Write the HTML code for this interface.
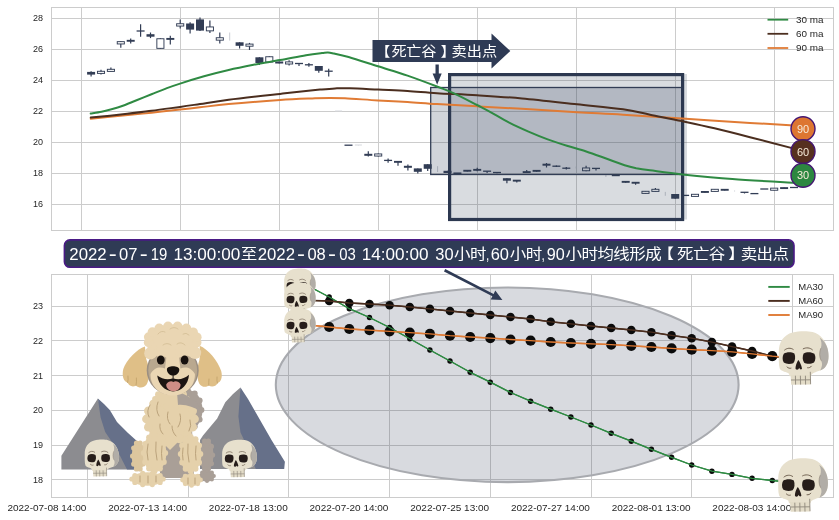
<!DOCTYPE html>
<html lang="zh">
<head>
<meta charset="utf-8">
<title>死亡谷 卖出点</title>
<style>
html,body{margin:0;padding:0;background:#fff;}
body{width:839px;height:520px;overflow:hidden;}
svg{display:block;}
text{font-family:"Liberation Sans", "Noto Sans CJK SC", sans-serif;}
.tick{font-size:10px;fill:#262626;}
.leg{font-size:9.9px;fill:#262626;}
.ytick{font-size:9.7px;fill:#262626;}
.leg2{font-size:9.5px;fill:#262626;}
</style>
</head>
<body>
<svg width="839" height="520" viewBox="0 0 839 520">
<rect x="0" y="0" width="839" height="520" fill="#ffffff"/>

<g id="ax1">
<g stroke="#cccccc" stroke-width="1" fill="none" shape-rendering="crispEdges">
<line x1="81.5" y1="7.5" x2="81.5" y2="230.5"/>
<line x1="180.5" y1="7.5" x2="180.5" y2="230.5"/>
<line x1="279.5" y1="7.5" x2="279.5" y2="230.5"/>
<line x1="378.5" y1="7.5" x2="378.5" y2="230.5"/>
<line x1="477.5" y1="7.5" x2="477.5" y2="230.5"/>
<line x1="576.5" y1="7.5" x2="576.5" y2="230.5"/>
<line x1="675.5" y1="7.5" x2="675.5" y2="230.5"/>
<line x1="774.5" y1="7.5" x2="774.5" y2="230.5"/>
<line x1="51.5" y1="18.5" x2="833.5" y2="18.5"/>
<line x1="51.5" y1="49.5" x2="833.5" y2="49.5"/>
<line x1="51.5" y1="80.5" x2="833.5" y2="80.5"/>
<line x1="51.5" y1="111.5" x2="833.5" y2="111.5"/>
<line x1="51.5" y1="142.5" x2="833.5" y2="142.5"/>
<line x1="51.5" y1="173.5" x2="833.5" y2="173.5"/>
<line x1="51.5" y1="204.5" x2="833.5" y2="204.5"/>
<rect x="51.5" y="7.5" width="782.0" height="223.0"/>
</g>
<text class="ytick" transform="translate(43.0,21.4) scale(0.93,1)" text-anchor="end">28</text>
<text class="ytick" transform="translate(43.0,52.3) scale(0.93,1)" text-anchor="end">26</text>
<text class="ytick" transform="translate(43.0,83.3) scale(0.93,1)" text-anchor="end">24</text>
<text class="ytick" transform="translate(43.0,114.2) scale(0.93,1)" text-anchor="end">22</text>
<text class="ytick" transform="translate(43.0,145.1) scale(0.93,1)" text-anchor="end">20</text>
<text class="ytick" transform="translate(43.0,176.1) scale(0.93,1)" text-anchor="end">18</text>
<text class="ytick" transform="translate(43.0,207.0) scale(0.93,1)" text-anchor="end">16</text>
<g id="candles">
<line x1="229.7" y1="32.5" x2="229.7" y2="40.6" stroke="#c9ccd3" stroke-width="1"/>
<line x1="338.6" y1="111" x2="338.6" y2="111.3" stroke="#c9ccd3" stroke-width="1"/>
<line x1="335.1" y1="111" x2="342.1" y2="111" stroke="#d5d7dc" stroke-width="1"/>
<line x1="358.4" y1="145.0" x2="358.4" y2="145.4" stroke="#c9ccd3" stroke-width="1"/>
<line x1="354.9" y1="145.0" x2="361.9" y2="145.0" stroke="#d5d7dc" stroke-width="1"/>
<line x1="437.6" y1="166.2" x2="437.6" y2="172.0" stroke="#c9ccd3" stroke-width="1"/>
<line x1="576.2" y1="166.5" x2="576.2" y2="168.5" stroke="#c9ccd3" stroke-width="1"/>
<line x1="605.9" y1="174.0" x2="605.9" y2="177.0" stroke="#c9ccd3" stroke-width="1"/>
<line x1="665.3" y1="191.9" x2="665.3" y2="195.8" stroke="#c9ccd3" stroke-width="1"/>
<line x1="734.6" y1="190.5" x2="734.6" y2="191.5" stroke="#c9ccd3" stroke-width="1"/>
<line x1="91.1" y1="71.3" x2="91.1" y2="76.5" stroke="#323d55" stroke-width="1.2"/>
<rect x="87.1" y="71.90" width="8.0" height="2.7" fill="#323d55"/>
<line x1="101.0" y1="69.8" x2="101.0" y2="74.6" stroke="#323d55" stroke-width="1.2"/>
<rect x="97.45" y="71.30" width="7.10" height="2.10" fill="#ffffff" stroke="#323d55" stroke-width="0.95"/>
<line x1="110.9" y1="67.5" x2="110.9" y2="71.5" stroke="#323d55" stroke-width="1.2"/>
<rect x="107.35" y="69.30" width="7.10" height="2.10" fill="#ffffff" stroke="#323d55" stroke-width="0.95"/>
<line x1="120.8" y1="41.2" x2="120.8" y2="47.7" stroke="#323d55" stroke-width="1.2"/>
<rect x="117.25" y="41.65" width="7.10" height="2.30" fill="#ffffff" stroke="#323d55" stroke-width="0.95"/>
<line x1="130.7" y1="38.5" x2="130.7" y2="43.5" stroke="#323d55" stroke-width="1.2"/>
<rect x="126.7" y="39.85" width="8.0" height="1.9" fill="#323d55"/>
<line x1="140.6" y1="24.2" x2="140.6" y2="36.7" stroke="#323d55" stroke-width="1.2"/>
<line x1="136.6" y1="31.0" x2="144.6" y2="31.0" stroke="#323d55" stroke-width="1.3"/>
<line x1="150.5" y1="32.5" x2="150.5" y2="38.1" stroke="#323d55" stroke-width="1.2"/>
<rect x="146.5" y="34.20" width="8.0" height="2.5" fill="#323d55"/>
<line x1="160.4" y1="38.3" x2="160.4" y2="48.8" stroke="#323d55" stroke-width="1.2"/>
<rect x="156.85" y="38.75" width="7.10" height="9.60" fill="#ffffff" stroke="#323d55" stroke-width="0.95"/>
<line x1="170.3" y1="35.8" x2="170.3" y2="44.4" stroke="#323d55" stroke-width="1.2"/>
<rect x="166.3" y="37.95" width="8.0" height="1.9" fill="#323d55"/>
<line x1="180.2" y1="19.4" x2="180.2" y2="28.5" stroke="#323d55" stroke-width="1.2"/>
<rect x="176.65" y="23.75" width="7.10" height="2.30" fill="#ffffff" stroke="#323d55" stroke-width="0.95"/>
<line x1="190.1" y1="22.3" x2="190.1" y2="33.5" stroke="#323d55" stroke-width="1.2"/>
<rect x="186.1" y="23.50" width="8.0" height="6.1" fill="#323d55"/>
<line x1="200.0" y1="17.5" x2="200.0" y2="31.0" stroke="#323d55" stroke-width="1.2"/>
<rect x="196.0" y="19.40" width="8.0" height="11.2" fill="#323d55"/>
<line x1="209.9" y1="20.4" x2="209.9" y2="32.9" stroke="#323d55" stroke-width="1.2"/>
<rect x="206.35" y="26.95" width="7.10" height="3.90" fill="#ffffff" stroke="#323d55" stroke-width="0.95"/>
<line x1="219.8" y1="32.5" x2="219.8" y2="43.5" stroke="#323d55" stroke-width="1.2"/>
<rect x="216.25" y="37.75" width="7.10" height="2.40" fill="#ffffff" stroke="#323d55" stroke-width="0.95"/>
<line x1="239.6" y1="42.3" x2="239.6" y2="48.5" stroke="#323d55" stroke-width="1.2"/>
<rect x="235.6" y="42.30" width="8.0" height="3.5" fill="#323d55"/>
<line x1="249.5" y1="42.9" x2="249.5" y2="50.0" stroke="#323d55" stroke-width="1.2"/>
<rect x="245.95" y="44.10" width="7.10" height="2.10" fill="#ffffff" stroke="#323d55" stroke-width="0.95"/>
<line x1="259.4" y1="57.3" x2="259.4" y2="65.0" stroke="#323d55" stroke-width="1.2"/>
<rect x="255.4" y="57.30" width="8.0" height="5.7" fill="#323d55"/>
<line x1="269.3" y1="56.3" x2="269.3" y2="62.5" stroke="#323d55" stroke-width="1.2"/>
<rect x="265.75" y="56.75" width="7.10" height="5.30" fill="#ffffff" stroke="#323d55" stroke-width="0.95"/>
<line x1="279.2" y1="61.5" x2="279.2" y2="63.5" stroke="#323d55" stroke-width="1.2"/>
<rect x="275.2" y="61.50" width="8.0" height="2.0" fill="#323d55"/>
<line x1="289.1" y1="60.2" x2="289.1" y2="65.4" stroke="#323d55" stroke-width="1.2"/>
<rect x="285.55" y="61.90" width="7.10" height="2.10" fill="#ffffff" stroke="#323d55" stroke-width="0.95"/>
<line x1="299.0" y1="63.5" x2="299.0" y2="66.0" stroke="#323d55" stroke-width="1.2"/>
<line x1="295.0" y1="63.5" x2="303.0" y2="63.5" stroke="#323d55" stroke-width="1.3"/>
<line x1="308.9" y1="63.1" x2="308.9" y2="66.7" stroke="#323d55" stroke-width="1.2"/>
<line x1="304.9" y1="64.8" x2="312.9" y2="64.8" stroke="#323d55" stroke-width="1.3"/>
<line x1="318.8" y1="66.0" x2="318.8" y2="72.7" stroke="#323d55" stroke-width="1.2"/>
<rect x="314.8" y="66.00" width="8.0" height="4.8" fill="#323d55"/>
<line x1="328.7" y1="68.8" x2="328.7" y2="76.5" stroke="#323d55" stroke-width="1.2"/>
<line x1="324.7" y1="71.2" x2="332.7" y2="71.2" stroke="#323d55" stroke-width="1.3"/>
<line x1="344.5" y1="145.2" x2="352.5" y2="145.2" stroke="#323d55" stroke-width="1.3"/>
<line x1="368.3" y1="151.2" x2="368.3" y2="156.5" stroke="#323d55" stroke-width="1.2"/>
<rect x="364.3" y="153.80" width="8.0" height="2.0" fill="#323d55"/>
<line x1="378.2" y1="153.5" x2="378.2" y2="156.5" stroke="#323d55" stroke-width="1.2"/>
<rect x="374.65" y="153.95" width="7.10" height="2.10" fill="#ffffff" stroke="#323d55" stroke-width="0.95"/>
<line x1="388.1" y1="158.5" x2="388.1" y2="162.7" stroke="#323d55" stroke-width="1.2"/>
<line x1="384.1" y1="160.4" x2="392.1" y2="160.4" stroke="#323d55" stroke-width="1.3"/>
<line x1="398.0" y1="161.0" x2="398.0" y2="165.8" stroke="#323d55" stroke-width="1.2"/>
<rect x="394.0" y="160.90" width="8.0" height="1.9" fill="#323d55"/>
<line x1="407.9" y1="164.6" x2="407.9" y2="170.4" stroke="#323d55" stroke-width="1.2"/>
<rect x="403.9" y="165.80" width="8.0" height="2.0" fill="#323d55"/>
<line x1="417.8" y1="168.4" x2="417.8" y2="173.5" stroke="#323d55" stroke-width="1.2"/>
<rect x="413.8" y="168.40" width="8.0" height="3.4" fill="#323d55"/>
<line x1="427.7" y1="164.2" x2="427.7" y2="171.0" stroke="#323d55" stroke-width="1.2"/>
<rect x="423.7" y="164.20" width="8.0" height="4.6" fill="#323d55"/>
<line x1="447.5" y1="170.8" x2="447.5" y2="173.0" stroke="#323d55" stroke-width="1.2"/>
<rect x="443.5" y="170.80" width="8.0" height="2.2" fill="#323d55"/>
<line x1="457.4" y1="173.0" x2="457.4" y2="173.8" stroke="#323d55" stroke-width="1.2"/>
<rect x="453.4" y="172.45" width="8.0" height="1.9" fill="#323d55"/>
<line x1="467.3" y1="170.0" x2="467.3" y2="171.5" stroke="#323d55" stroke-width="1.2"/>
<rect x="463.3" y="169.80" width="8.0" height="1.9" fill="#323d55"/>
<line x1="477.2" y1="167.7" x2="477.2" y2="171.3" stroke="#323d55" stroke-width="1.2"/>
<rect x="473.2" y="168.90" width="8.0" height="1.9" fill="#323d55"/>
<line x1="487.1" y1="171.2" x2="487.1" y2="173.0" stroke="#323d55" stroke-width="1.2"/>
<line x1="483.1" y1="171.2" x2="491.1" y2="171.2" stroke="#323d55" stroke-width="1.3"/>
<line x1="497.0" y1="172.5" x2="497.0" y2="173.2" stroke="#323d55" stroke-width="1.2"/>
<line x1="493.0" y1="172.5" x2="501.0" y2="172.5" stroke="#323d55" stroke-width="1.3"/>
<line x1="506.9" y1="178.2" x2="506.9" y2="183.2" stroke="#323d55" stroke-width="1.2"/>
<rect x="502.9" y="178.20" width="8.0" height="2.5" fill="#323d55"/>
<line x1="516.8" y1="180.0" x2="516.8" y2="182.5" stroke="#323d55" stroke-width="1.2"/>
<rect x="512.8" y="179.70" width="8.0" height="1.9" fill="#323d55"/>
<line x1="526.7" y1="170.0" x2="526.7" y2="173.0" stroke="#323d55" stroke-width="1.2"/>
<rect x="522.7" y="171.15" width="8.0" height="1.9" fill="#323d55"/>
<line x1="536.6" y1="170.0" x2="536.6" y2="171.7" stroke="#323d55" stroke-width="1.2"/>
<rect x="532.6" y="169.90" width="8.0" height="1.9" fill="#323d55"/>
<line x1="546.5" y1="163.0" x2="546.5" y2="167.5" stroke="#323d55" stroke-width="1.2"/>
<rect x="542.5" y="163.70" width="8.0" height="2.0" fill="#323d55"/>
<line x1="556.4" y1="165.5" x2="556.4" y2="167.0" stroke="#323d55" stroke-width="1.2"/>
<line x1="552.4" y1="166.2" x2="560.4" y2="166.2" stroke="#323d55" stroke-width="1.3"/>
<line x1="566.3" y1="167.0" x2="566.3" y2="169.5" stroke="#323d55" stroke-width="1.2"/>
<line x1="562.3" y1="168.2" x2="570.3" y2="168.2" stroke="#323d55" stroke-width="1.3"/>
<line x1="586.1" y1="165.8" x2="586.1" y2="171.2" stroke="#323d55" stroke-width="1.2"/>
<rect x="582.55" y="167.95" width="7.10" height="2.80" fill="#ffffff" stroke="#323d55" stroke-width="0.95"/>
<line x1="596.0" y1="168.4" x2="596.0" y2="170.6" stroke="#323d55" stroke-width="1.2"/>
<line x1="592.0" y1="168.4" x2="600.0" y2="168.4" stroke="#323d55" stroke-width="1.3"/>
<line x1="615.8" y1="174.6" x2="615.8" y2="175.9" stroke="#323d55" stroke-width="1.2"/>
<rect x="611.8" y="174.30" width="8.0" height="1.9" fill="#323d55"/>
<line x1="625.7" y1="181.0" x2="625.7" y2="182.7" stroke="#323d55" stroke-width="1.2"/>
<rect x="621.7" y="180.90" width="8.0" height="1.9" fill="#323d55"/>
<line x1="635.6" y1="182.0" x2="635.6" y2="184.8" stroke="#323d55" stroke-width="1.2"/>
<rect x="631.6" y="181.80" width="8.0" height="1.9" fill="#323d55"/>
<line x1="645.5" y1="191.2" x2="645.5" y2="193.5" stroke="#323d55" stroke-width="1.2"/>
<rect x="641.95" y="191.30" width="7.10" height="2.10" fill="#ffffff" stroke="#323d55" stroke-width="0.95"/>
<line x1="655.4" y1="188.0" x2="655.4" y2="191.5" stroke="#323d55" stroke-width="1.2"/>
<rect x="651.85" y="189.30" width="7.10" height="2.10" fill="#ffffff" stroke="#323d55" stroke-width="0.95"/>
<line x1="675.2" y1="194.0" x2="675.2" y2="198.7" stroke="#323d55" stroke-width="1.2"/>
<rect x="671.2" y="194.00" width="8.0" height="4.7" fill="#323d55"/>
<line x1="681.1" y1="195.4" x2="689.1" y2="195.4" stroke="#323d55" stroke-width="1.3"/>
<line x1="695.0" y1="194.2" x2="695.0" y2="196.5" stroke="#323d55" stroke-width="1.2"/>
<rect x="691.45" y="194.30" width="7.10" height="2.10" fill="#ffffff" stroke="#323d55" stroke-width="0.95"/>
<line x1="704.9" y1="191.2" x2="704.9" y2="192.7" stroke="#323d55" stroke-width="1.2"/>
<rect x="700.9" y="191.00" width="8.0" height="1.9" fill="#323d55"/>
<line x1="714.8" y1="189.2" x2="714.8" y2="191.5" stroke="#323d55" stroke-width="1.2"/>
<rect x="711.25" y="189.30" width="7.10" height="2.10" fill="#ffffff" stroke="#323d55" stroke-width="0.95"/>
<line x1="724.7" y1="189.0" x2="724.7" y2="190.6" stroke="#323d55" stroke-width="1.2"/>
<rect x="720.7" y="188.85" width="8.0" height="1.9" fill="#323d55"/>
<line x1="744.5" y1="192.3" x2="744.5" y2="193.5" stroke="#323d55" stroke-width="1.2"/>
<line x1="740.5" y1="192.3" x2="748.5" y2="192.3" stroke="#323d55" stroke-width="1.3"/>
<line x1="750.4" y1="193.6" x2="758.4" y2="193.6" stroke="#323d55" stroke-width="1.3"/>
<line x1="760.3" y1="189.0" x2="768.3" y2="189.0" stroke="#323d55" stroke-width="1.3"/>
<line x1="774.2" y1="188.0" x2="774.2" y2="190.4" stroke="#323d55" stroke-width="1.2"/>
<rect x="770.65" y="188.15" width="7.10" height="2.10" fill="#ffffff" stroke="#323d55" stroke-width="0.95"/>
<line x1="784.1" y1="187.5" x2="784.1" y2="188.7" stroke="#323d55" stroke-width="1.2"/>
<rect x="780.1" y="187.15" width="8.0" height="1.9" fill="#323d55"/>
<line x1="790.0" y1="187.5" x2="798.0" y2="187.5" stroke="#323d55" stroke-width="1.3"/>
</g>
<g id="boxes">
<rect x="449" y="74" width="238" height="145.5" fill="#2f3b55" fill-opacity="0.18"/>
<rect x="430.7" y="87.5" width="251.8" height="87.0" fill="#2f3b55" fill-opacity="0.22" stroke="#323d55" stroke-width="1.3"/>
<rect x="449.6" y="74.6" width="233" height="144.9" fill="none" stroke="#2c3850" stroke-width="3.2" stroke-linejoin="miter"/>
</g>
<g id="ma" fill="none" stroke-linecap="round" stroke-linejoin="round">
<path d="M90.7,118.7 C96.1,118.2 112.8,116.6 122.9,115.6 C133.0,114.6 142.0,113.7 151.5,112.7 C161.0,111.7 172.0,110.4 180.1,109.5 C188.2,108.6 191.9,108.2 200.0,107.3 C208.1,106.4 215.4,105.3 228.7,104.1 C242.0,102.9 265.6,101.1 280.0,100.1 C294.4,99.1 306.7,98.7 315.0,98.3 C323.3,97.9 325.0,97.9 330.0,97.9 C335.0,97.9 337.0,97.9 345.0,98.3 C353.0,98.7 367.6,99.8 378.0,100.4 C388.4,101.0 397.7,101.4 407.5,102.0 C417.3,102.6 425.4,103.4 437.0,104.1 C448.6,104.8 462.8,105.5 477.0,106.3 C491.2,107.1 505.3,107.8 522.0,108.8 C538.7,109.8 560.2,111.2 577.0,112.2 C593.8,113.2 605.5,113.6 623.0,114.7 C640.5,115.8 660.8,117.2 682.0,118.6 C703.2,120.0 731.3,121.8 750.0,122.9 C768.7,124.1 786.7,125.1 794.0,125.5" stroke="#e07b35" stroke-width="2.0"/>
<path d="M90.7,117.5 C96.1,117.0 112.8,115.4 122.9,114.3 C133.0,113.2 142.0,112.0 151.5,110.8 C161.0,109.6 172.0,108.0 180.1,106.9 C188.2,105.8 191.9,105.2 200.0,104.0 C208.1,102.8 215.4,101.5 228.7,99.8 C242.0,98.1 264.8,95.6 280.0,93.9 C295.2,92.2 310.8,90.5 320.0,89.6 C329.2,88.7 330.0,88.6 335.0,88.4 C340.0,88.2 342.8,88.0 350.0,88.2 C357.2,88.4 368.4,89.1 378.0,89.6 C387.6,90.1 397.7,90.5 407.5,91.1 C417.3,91.7 425.4,92.5 437.0,93.2 C448.6,93.9 462.8,94.4 477.0,95.3 C491.2,96.2 505.3,97.0 522.0,98.5 C538.7,100.0 560.2,102.5 577.0,104.3 C593.8,106.1 610.8,107.6 623.0,109.3 C635.2,111.0 640.2,112.7 650.0,114.7 C659.8,116.7 671.2,118.8 682.0,121.1 C692.8,123.4 703.2,125.6 714.5,128.3 C725.8,131.0 736.8,133.8 750.0,137.2 C763.2,140.6 786.7,146.7 794.0,148.6" stroke="#4b2e1f" stroke-width="2.0"/>
<path d="M90.7,113.6 C92.5,113.3 98.0,112.5 101.5,111.8 C105.0,111.1 107.9,110.3 111.5,109.3 C115.1,108.3 118.6,107.3 122.9,105.8 C127.2,104.2 132.4,101.9 137.2,100.0 C142.0,98.1 146.7,96.2 151.5,94.3 C156.3,92.4 161.0,90.4 165.8,88.6 C170.6,86.8 173.7,85.6 180.1,83.6 C186.5,81.5 195.9,78.6 204.0,76.3 C212.1,74.0 220.4,71.9 228.7,70.0 C236.9,68.1 244.9,66.5 253.5,64.8 C262.1,63.1 271.2,61.7 280.0,60.1 C288.8,58.5 299.0,56.4 306.0,55.2 C313.0,54.0 318.3,53.5 322.0,53.1 C325.7,52.7 326.0,52.5 328.0,52.6 C330.0,52.7 330.6,52.9 334.0,53.6 C337.4,54.3 341.3,54.9 348.6,57.0 C355.9,59.1 368.2,63.2 378.0,66.3 C387.8,69.4 397.7,72.2 407.5,75.6 C417.3,79.0 429.2,83.5 437.0,86.5 C444.8,89.5 447.3,90.2 454.0,93.3 C460.7,96.4 471.0,101.9 477.0,105.0 C483.0,108.1 484.6,108.8 490.0,111.8 C495.4,114.8 502.8,119.4 509.2,122.7 C515.6,126.0 522.1,128.9 528.5,131.7 C534.9,134.5 541.3,137.1 547.7,139.4 C554.1,141.8 560.5,143.8 566.9,145.8 C573.3,147.8 579.8,149.4 586.2,151.5 C592.6,153.6 599.0,156.0 605.4,158.3 C611.8,160.6 619.5,163.5 624.6,165.2 C629.7,166.8 632.0,167.3 636.2,168.2 C640.4,169.0 642.3,169.3 650.0,170.3 C657.7,171.3 668.6,173.0 682.3,174.4 C696.0,175.8 713.8,177.6 732.4,179.0 C751.0,180.4 783.7,182.1 794.0,182.7" stroke="#2f8a43" stroke-width="2.0"/>
</g>
<g id="anno1">
<path d="M372.5,40 L491.5,40 L491.5,33.6 L510.3,51 L491.5,68.6 L491.5,62 L372.5,62 Z" fill="#2f3b55"/>
<text transform="translate(0,56.0) scale(1,0.9)" font-size="15.2" fill="#ffffff"><tspan x="375.3">【</tspan><tspan x="391.4" textLength="45.1" lengthAdjust="spacing">死亡谷</tspan><tspan x="440.4">】</tspan><tspan x="451.4" textLength="45.9" lengthAdjust="spacing">卖出点</tspan></text>
<path d="M435.5,64.5 L438.8,64.5 L438.8,73.4 L441.7,73.4 L437.15,84.8 L432.6,73.4 L435.5,73.4 Z" fill="#2f3b55"/>
</g>
<g id="circles" font-size="11" text-anchor="middle">
<circle cx="803" cy="128.8" r="12.0" fill="#dd7631" stroke="#451672" stroke-width="1.4"/>
<text x="803" y="132.7" fill="#f6ead8">90</text>
<circle cx="803" cy="151.6" r="12.0" fill="#56301f" stroke="#451672" stroke-width="1.4"/>
<text x="803" y="155.5" fill="#f6ead8">60</text>
<circle cx="803" cy="175.2" r="12.0" fill="#2c8740" stroke="#451672" stroke-width="1.4"/>
<text x="803" y="179.1" fill="#f6ead8">30</text>
</g>
<g id="legend1">
<line x1="767.5" y1="19.7" x2="788.2" y2="19.7" stroke="#2f8a43" stroke-width="1.8"/>
<text class="leg" transform="translate(796.1,22.6) scale(1,0.93)" text-anchor="start">30 ma</text>
<line x1="767.5" y1="33.8" x2="788.2" y2="33.8" stroke="#4b2e1f" stroke-width="1.8"/>
<text class="leg" transform="translate(796.1,36.7) scale(1,0.93)" text-anchor="start">60 ma</text>
<line x1="767.5" y1="48.0" x2="788.2" y2="48.0" stroke="#e07b35" stroke-width="1.8"/>
<text class="leg" transform="translate(796.1,50.9) scale(1,0.93)" text-anchor="start">90 ma</text>
</g>
</g>
<g id="title">
<rect x="64.4" y="239.9" width="729.6" height="27.4" rx="5.5" ry="5.5" fill="#2f3b55" stroke="#4a1a86" stroke-width="1.6"/>
<text transform="translate(0,259.7) scale(1,0.88)" fill="#ffffff" xml:space="preserve"><tspan x="69.3" y="0" font-size="19.2" textLength="37.4" lengthAdjust="spacingAndGlyphs">2022</tspan><tspan x="108.7" y="1.3" font-size="24">-</tspan><tspan x="119.0" y="0" font-size="19.2" textLength="18.4" lengthAdjust="spacingAndGlyphs">07</tspan><tspan x="139.7" y="1.3" font-size="24">-</tspan><tspan x="150.8" y="0" font-size="19.2" textLength="20.7" lengthAdjust="spacingAndGlyphs">19 </tspan><tspan x="173.5" y="0" font-size="19.2" textLength="66.7" lengthAdjust="spacingAndGlyphs">13:00:00</tspan><tspan x="240.65" y="-0.9" font-size="16.5">至</tspan><tspan x="257.7" y="0" font-size="19.2" textLength="37.3" lengthAdjust="spacingAndGlyphs">2022</tspan><tspan x="297.1" y="1.3" font-size="24">-</tspan><tspan x="307.4" y="0" font-size="19.2" textLength="18.4" lengthAdjust="spacingAndGlyphs">08</tspan><tspan x="328.1" y="1.3" font-size="24">-</tspan><tspan x="339.2" y="0" font-size="19.2" textLength="20.7" lengthAdjust="spacingAndGlyphs">03 </tspan><tspan x="361.8" y="0" font-size="19.2" textLength="71.4" lengthAdjust="spacingAndGlyphs">14:00:00 </tspan><tspan x="435.3" y="0" font-size="19.2" textLength="18.3" lengthAdjust="spacingAndGlyphs">30</tspan><tspan x="453.95" y="-0.9" font-size="16.5" textLength="32.5" lengthAdjust="spacing">小时</tspan><tspan x="486.0" y="0" font-size="19.2" textLength="3.3" lengthAdjust="spacingAndGlyphs">,</tspan><tspan x="490.7" y="0" font-size="19.2" textLength="18.3" lengthAdjust="spacingAndGlyphs">60</tspan><tspan x="509.85" y="-0.9" font-size="16.5" textLength="32.5" lengthAdjust="spacing">小时</tspan><tspan x="541.6" y="0" font-size="19.2" textLength="3.3" lengthAdjust="spacingAndGlyphs">,</tspan><tspan x="546.7" y="0" font-size="19.2" textLength="18.0" lengthAdjust="spacingAndGlyphs">90</tspan><tspan x="565.55" y="-0.9" font-size="16.5" textLength="96.2" lengthAdjust="spacing">小时均线形成</tspan><tspan x="657.55" y="-0.9" font-size="16.5">【</tspan><tspan x="676.95" y="-0.9" font-size="16.5" textLength="48.4" lengthAdjust="spacing">死亡谷</tspan><tspan x="728.35" y="-0.9" font-size="16.5">】</tspan><tspan x="740.65" y="-0.9" font-size="16.5" textLength="48.4" lengthAdjust="spacing">卖出点</tspan></text>
</g>
<g id="ax2">
<g stroke="#cccccc" stroke-width="1" fill="none" shape-rendering="crispEdges">
<line x1="87.5" y1="274.5" x2="87.5" y2="497.5"/>
<line x1="188.5" y1="274.5" x2="188.5" y2="497.5"/>
<line x1="288.5" y1="274.5" x2="288.5" y2="497.5"/>
<line x1="389.5" y1="274.5" x2="389.5" y2="497.5"/>
<line x1="490.5" y1="274.5" x2="490.5" y2="497.5"/>
<line x1="591.5" y1="274.5" x2="591.5" y2="497.5"/>
<line x1="691.5" y1="274.5" x2="691.5" y2="497.5"/>
<line x1="792.5" y1="274.5" x2="792.5" y2="497.5"/>
<line x1="51.5" y1="306.5" x2="833.5" y2="306.5"/>
<line x1="51.5" y1="340.5" x2="833.5" y2="340.5"/>
<line x1="51.5" y1="375.5" x2="833.5" y2="375.5"/>
<line x1="51.5" y1="410.5" x2="833.5" y2="410.5"/>
<line x1="51.5" y1="445.5" x2="833.5" y2="445.5"/>
<line x1="51.5" y1="479.5" x2="833.5" y2="479.5"/>
<rect x="51.5" y="274.5" width="782.0" height="223.0"/>
</g>
<text class="ytick" transform="translate(43.0,309.2) scale(0.93,1)" text-anchor="end">23</text>
<text class="ytick" transform="translate(43.0,343.9) scale(0.93,1)" text-anchor="end">22</text>
<text class="ytick" transform="translate(43.0,378.6) scale(0.93,1)" text-anchor="end">21</text>
<text class="ytick" transform="translate(43.0,413.2) scale(0.93,1)" text-anchor="end">20</text>
<text class="ytick" transform="translate(43.0,447.9) scale(0.93,1)" text-anchor="end">19</text>
<text class="ytick" transform="translate(43.0,482.6) scale(0.93,1)" text-anchor="end">18</text>
<text class="tick" transform="translate(86.3,511.0) scale(1,0.87)" text-anchor="end">2022-07-08 14:00</text>
<text class="tick" transform="translate(187.0,511.0) scale(1,0.87)" text-anchor="end">2022-07-13 14:00</text>
<text class="tick" transform="translate(287.7,511.0) scale(1,0.87)" text-anchor="end">2022-07-18 13:00</text>
<text class="tick" transform="translate(388.4,511.0) scale(1,0.87)" text-anchor="end">2022-07-20 14:00</text>
<text class="tick" transform="translate(489.1,511.0) scale(1,0.87)" text-anchor="end">2022-07-25 13:00</text>
<text class="tick" transform="translate(589.8,511.0) scale(1,0.87)" text-anchor="end">2022-07-27 14:00</text>
<text class="tick" transform="translate(690.5,511.0) scale(1,0.87)" text-anchor="end">2022-08-01 13:00</text>
<text class="tick" transform="translate(791.2,511.0) scale(1,0.87)" text-anchor="end">2022-08-03 14:00</text>
<ellipse cx="507.2" cy="384.8" rx="231.4" ry="97.3" fill="#2f3b55" fill-opacity="0.19" stroke="#a8aaaf" stroke-width="2.1"/>
<g id="ma2" fill="none" stroke-linejoin="round">
<path d="M314.0,289.0 L329.2,297.0 L349.3,308.7 L369.5,317.5 L389.6,327.5 L409.8,338.7 L429.9,350.0 L450.0,361.0 L470.2,372.3 L490.3,382.2 L510.5,392.5 L530.6,401.2 L550.7,409.2 L570.9,417.0 L591.0,425.0 L611.2,433.3 L631.3,441.2 L651.4,449.3 L671.6,457.3 L691.7,465.0 L711.9,471.2 L732.0,474.4 L752.1,478.3 L772.3,480.5 L781.0,481.3" stroke="#2f8a43" stroke-width="1.3"/>
<path d="M314.0,300.6 L329.2,301.0 L349.3,303.0 L369.5,304.0 L389.6,305.2 L409.8,307.0 L429.9,308.9 L450.0,311.0 L470.2,313.0 L490.3,315.0 L510.5,317.0 L530.6,319.0 L550.7,321.8 L570.9,323.8 L591.0,326.0 L611.2,328.0 L631.3,330.0 L651.4,332.2 L671.6,335.4 L691.7,338.2 L711.9,342.1 L732.0,346.6 L752.1,351.0 L772.3,356.2 L786.0,358.0" stroke="#4b2e1f" stroke-width="1.5"/>
<path d="M314.0,325.6 L329.2,327.0 L349.3,329.0 L369.5,330.2 L389.6,331.3 L409.8,332.7 L429.9,333.9 L450.0,335.7 L470.2,337.0 L490.3,338.1 L510.5,339.5 L530.6,340.7 L550.7,342.0 L570.9,343.0 L591.0,343.8 L611.2,344.6 L631.3,345.8 L651.4,347.0 L671.6,348.4 L691.7,349.7 L711.9,350.6 L732.0,351.8 L752.1,353.9 L772.3,356.2 L786.0,357.3" stroke="#e07b35" stroke-width="1.5"/>
</g>
<g id="markers" fill="#0b0b0b">
<circle cx="329.2" cy="297" r="2.7"/>
<circle cx="349.3" cy="308.7" r="2.7"/>
<circle cx="369.5" cy="317.5" r="2.7"/>
<circle cx="389.6" cy="327.5" r="2.7"/>
<circle cx="409.8" cy="338.7" r="2.7"/>
<circle cx="429.9" cy="350" r="2.7"/>
<circle cx="450.0" cy="361" r="2.7"/>
<circle cx="470.2" cy="372.3" r="2.7"/>
<circle cx="490.3" cy="382.2" r="2.7"/>
<circle cx="510.5" cy="392.5" r="2.7"/>
<circle cx="530.6" cy="401.2" r="2.7"/>
<circle cx="550.7" cy="409.2" r="2.7"/>
<circle cx="570.9" cy="417" r="2.7"/>
<circle cx="591.0" cy="425" r="2.7"/>
<circle cx="611.2" cy="433.3" r="2.7"/>
<circle cx="631.3" cy="441.2" r="2.7"/>
<circle cx="651.4" cy="449.3" r="2.7"/>
<circle cx="671.6" cy="457.3" r="2.7"/>
<circle cx="691.7" cy="465" r="2.7"/>
<circle cx="711.9" cy="471.2" r="2.7"/>
<circle cx="732.0" cy="474.4" r="2.7"/>
<circle cx="752.1" cy="478.3" r="2.7"/>
<circle cx="772.3" cy="480.5" r="2.7"/>
<circle cx="329.2" cy="301" r="4.3"/>
<circle cx="349.3" cy="303" r="4.3"/>
<circle cx="369.5" cy="304" r="4.3"/>
<circle cx="389.6" cy="305.2" r="4.3"/>
<circle cx="409.8" cy="307" r="4.3"/>
<circle cx="429.9" cy="308.9" r="4.3"/>
<circle cx="450.0" cy="311" r="4.3"/>
<circle cx="470.2" cy="313" r="4.3"/>
<circle cx="490.3" cy="315" r="4.3"/>
<circle cx="510.5" cy="317" r="4.3"/>
<circle cx="530.6" cy="319" r="4.3"/>
<circle cx="550.7" cy="321.8" r="4.3"/>
<circle cx="570.9" cy="323.8" r="4.3"/>
<circle cx="591.0" cy="326" r="4.3"/>
<circle cx="611.2" cy="328" r="4.3"/>
<circle cx="631.3" cy="330" r="4.3"/>
<circle cx="651.4" cy="332.2" r="4.3"/>
<circle cx="671.6" cy="335.4" r="4.3"/>
<circle cx="691.7" cy="338.2" r="4.3"/>
<circle cx="711.9" cy="342.1" r="4.3"/>
<circle cx="732.0" cy="346.6" r="4.3"/>
<circle cx="752.1" cy="351" r="4.3"/>
<circle cx="772.3" cy="356.2" r="4.3"/>
<circle cx="329.2" cy="327" r="5.1"/>
<circle cx="349.3" cy="329" r="5.1"/>
<circle cx="369.5" cy="330.2" r="5.1"/>
<circle cx="389.6" cy="331.3" r="5.1"/>
<circle cx="409.8" cy="332.7" r="5.1"/>
<circle cx="429.9" cy="333.9" r="5.1"/>
<circle cx="450.0" cy="335.7" r="5.1"/>
<circle cx="470.2" cy="337" r="5.1"/>
<circle cx="490.3" cy="338.1" r="5.1"/>
<circle cx="510.5" cy="339.5" r="5.1"/>
<circle cx="530.6" cy="340.7" r="5.1"/>
<circle cx="550.7" cy="342" r="5.1"/>
<circle cx="570.9" cy="343" r="5.1"/>
<circle cx="591.0" cy="343.8" r="5.1"/>
<circle cx="611.2" cy="344.6" r="5.1"/>
<circle cx="631.3" cy="345.8" r="5.1"/>
<circle cx="651.4" cy="347" r="5.1"/>
<circle cx="671.6" cy="348.4" r="5.1"/>
<circle cx="691.7" cy="349.7" r="5.1"/>
<circle cx="711.9" cy="350.6" r="5.1"/>
<circle cx="732.0" cy="351.8" r="5.1"/>
<circle cx="752.1" cy="353.9" r="5.1"/>
<circle cx="772.3" cy="356.2" r="5.1"/>
</g>
<g fill="none" stroke-linejoin="round">
<path d="M314.0,289.0 L329.2,297.0 L349.3,308.7 L369.5,317.5 L389.6,327.5 L409.8,338.7 L429.9,350.0 L450.0,361.0 L470.2,372.3 L490.3,382.2 L510.5,392.5 L530.6,401.2 L550.7,409.2 L570.9,417.0 L591.0,425.0 L611.2,433.3 L631.3,441.2 L651.4,449.3 L671.6,457.3 L691.7,465.0 L711.9,471.2 L732.0,474.4 L752.1,478.3 L772.3,480.5 L781.0,481.3" stroke="#2f8a43" stroke-width="1.3"/>
<path d="M314.0,300.6 L329.2,301.0 L349.3,303.0 L369.5,304.0 L389.6,305.2 L409.8,307.0 L429.9,308.9 L450.0,311.0 L470.2,313.0 L490.3,315.0 L510.5,317.0 L530.6,319.0 L550.7,321.8 L570.9,323.8 L591.0,326.0 L611.2,328.0 L631.3,330.0 L651.4,332.2 L671.6,335.4 L691.7,338.2 L711.9,342.1 L732.0,346.6 L752.1,351.0 L772.3,356.2 L786.0,358.0" stroke="#4b2e1f" stroke-width="1.3"/>
<path d="M314.0,325.6 L329.2,327.0 L349.3,329.0 L369.5,330.2 L389.6,331.3 L409.8,332.7 L429.9,333.9 L450.0,335.7 L470.2,337.0 L490.3,338.1 L510.5,339.5 L530.6,340.7 L550.7,342.0 L570.9,343.0 L591.0,343.8 L611.2,344.6 L631.3,345.8 L651.4,347.0 L671.6,348.4 L691.7,349.7 L711.9,350.6 L732.0,351.8 L752.1,353.9 L772.3,356.2 L786.0,357.3" stroke="#e07b35" stroke-width="1.3"/>
</g>
<path d="M444.0,271.4 L492.4,296.3 L490.7,299.5 L502.4,299.9 L495.3,290.6 L493.6,293.9 L445.2,269.0 Z" fill="#2f3b55"/>
<g id="legend2">
<line x1="768.3" y1="286.9" x2="789.7" y2="286.9" stroke="#2f8a43" stroke-width="1.9"/>
<text class="leg2" x="798.3" y="290.2">MA30</text>
<line x1="768.3" y1="300.9" x2="789.7" y2="300.9" stroke="#4b2e1f" stroke-width="1.9"/>
<text class="leg2" x="798.3" y="304.2">MA60</text>
<line x1="768.3" y1="315.0" x2="789.7" y2="315.0" stroke="#e07b35" stroke-width="1.9"/>
<text class="leg2" x="798.3" y="318.3">MA90</text>
</g>
<defs>
<g id="skull">
<path d="M0.2,21 C0,11 5,3.5 14,1.2 C20,-0.3 29,-0.4 34,0.8 C42,3 48.5,10 49.8,22 C50.6,29.5 48.5,35 44.5,37.8 C41,40.2 35.5,40.6 33.2,43 L32.4,45 L11,45 L10.4,42.6 C8,40.6 3,40.6 1.2,37.6 C-0.2,33 0.3,27 0.2,21 Z" fill="#e7e0cd"/>
<path d="M41.2,6.5 C46.5,10 49.4,15.5 49.8,22 C50.6,29.5 48.5,35 44.5,37.8 C43.6,38.4 42.6,38.9 41.6,39.2 C43.5,35.5 44.2,32.5 42.6,29.5 C40.6,25.8 40.6,21 42.2,17 C43.4,13.5 43,9.6 41.2,6.5 Z" fill="#b1ada7"/>
<path d="M42.2,17 C40.6,21 40.6,25.8 42.6,29.5" fill="none" stroke="#8b7f72" stroke-width="0.6"/>
<path d="M12,43.8 L31.8,43.8 L32.2,53.2 L12.6,53.6 Z" fill="#e3dcc8"/>
<path d="M12.4,48.8 L32,48.6 M16.8,44.5 L17,53.4 M21.8,44.5 L22,53.4 M26.8,44.5 L27,53.4 M31.7,40.6 L32,53" fill="none" stroke="#8f887c" stroke-width="0.9"/>
<path d="M5.2,22.6 C8,20.5 13,20.6 15.8,22.4 C17.1,25.5 16.7,29.9 14.6,32 C11.5,33.3 7.5,33 5.2,31.4 C3.5,28.8 3.7,25 5.2,22.6 Z" fill="#261d1a"/>
<path d="M25,22.2 C28,20.5 33,20.6 35.8,22.6 C37.3,25.2 37.1,29.2 35.4,31.3 C32.5,32.9 28,32.9 25.6,31.5 C23.7,28.8 23.7,25 25,22.2 Z" fill="#261d1a"/>
<path d="M19.8,28.8 C21.2,30.5 23.4,35.5 23.4,37.6 C22.6,38.8 21.2,38.4 20.6,36.6 C20,38.6 18.2,39 17,37.8 C16.6,35 18.4,30.6 19.8,28.8 Z" fill="#261d1a"/>
<path d="M6,18.8 C8.5,16.6 12,16.4 14.6,18.2 M24.6,17.6 C27.6,16 31.4,16.4 33.8,18.6 M8.4,35.8 C9.6,37 11.2,37.4 12.4,37 M29,36.6 C30.6,36.8 32,36.2 32.8,35" fill="none" stroke="#5d4d3d" stroke-width="0.85" stroke-linecap="round"/>
</g>
</defs>
<use href="#skull" transform="translate(284,268.6) scale(0.635)"/>
<use href="#skull" transform="translate(284,282.4) scale(0.635)"/>
<use href="#skull" transform="translate(284,308.4) scale(0.635)"/>
<use href="#skull" transform="translate(778.6,331.2) scale(1.0)"/>
<use href="#skull" transform="translate(778.0,458.2) scale(1.0)"/>
<g id="mountains">
<path d="M61.4,469.6 L61.4,455.8 L97.9,398.5 L105,422 L138,442 L138,469.6 Z" fill="#8c8c90"/>
<path d="M97.9,398.5 L104,404 L109.8,410 L117,422 L128,433 L138,442 L138,469.6 L127,469.6 L116,448 L105.2,432 L100.6,417.4 Z" fill="#667089"/>
<path d="M200,469 L200,440 L203,435.6 L217.2,418.4 L225.3,402.2 L233,394 L240.5,387.5 L245,420 L256,469 Z" fill="#8c8c90"/>
<path d="M240.5,387.5 L248,399 L255.6,412.3 L271.8,440.6 L284.9,461.8 L284.2,469 L255.6,469 L248,448 L240.5,432.5 L238.4,416.4 Z" fill="#667089"/>
</g>
<use href="#skull" transform="translate(84.6,439.6) scale(0.69)"/>
<use href="#skull" transform="translate(222.0,439.8) scale(0.7)"/>
<g id="dog">
<ellipse cx="206.5" cy="455" rx="7.0" ry="15.5" fill="#a99f97"/><circle cx="212.6" cy="455.0" r="2.6" fill="#a99f97"/><circle cx="211.4" cy="463.6" r="2.6" fill="#a99f97"/><circle cx="208.4" cy="468.9" r="2.6" fill="#a99f97"/><circle cx="204.6" cy="468.9" r="2.6" fill="#a99f97"/><circle cx="201.6" cy="463.6" r="2.6" fill="#a99f97"/><circle cx="200.4" cy="455.0" r="2.6" fill="#a99f97"/><circle cx="201.6" cy="446.4" r="2.6" fill="#a99f97"/><circle cx="204.6" cy="441.1" r="2.6" fill="#a99f97"/><circle cx="208.4" cy="441.1" r="2.6" fill="#a99f97"/><circle cx="211.4" cy="446.4" r="2.6" fill="#a99f97"/>
<ellipse cx="207" cy="476.0" rx="7.6" ry="5.8" fill="#a99f97"/><circle cx="213.9" cy="476.0" r="2.0" fill="#a99f97"/><circle cx="211.9" cy="479.6" r="2.0" fill="#a99f97"/><circle cx="207.0" cy="481.1" r="2.0" fill="#a99f97"/><circle cx="202.1" cy="479.6" r="2.0" fill="#a99f97"/><circle cx="200.1" cy="476.0" r="2.0" fill="#a99f97"/><circle cx="202.1" cy="472.4" r="2.0" fill="#a99f97"/><circle cx="207.0" cy="470.9" r="2.0" fill="#a99f97"/><circle cx="211.9" cy="472.4" r="2.0" fill="#a99f97"/>
<ellipse cx="138.3" cy="456" rx="6.6" ry="14.5" fill="#dcc69e"/><circle cx="144.0" cy="456.0" r="2.6" fill="#dcc69e"/><circle cx="142.9" cy="464.0" r="2.6" fill="#dcc69e"/><circle cx="140.1" cy="468.9" r="2.6" fill="#dcc69e"/><circle cx="136.5" cy="468.9" r="2.6" fill="#dcc69e"/><circle cx="133.7" cy="464.0" r="2.6" fill="#dcc69e"/><circle cx="132.6" cy="456.0" r="2.6" fill="#dcc69e"/><circle cx="133.7" cy="448.0" r="2.6" fill="#dcc69e"/><circle cx="136.5" cy="443.1" r="2.6" fill="#dcc69e"/><circle cx="140.1" cy="443.1" r="2.6" fill="#dcc69e"/><circle cx="142.9" cy="448.0" r="2.6" fill="#dcc69e"/>
<path d="M160,428 L192,428 L194,478 L160,478 Z" fill="#a99f97"/>
<ellipse cx="188" cy="410" rx="14.5" ry="20" fill="#a99f97"/><circle cx="201.4" cy="410.0" r="3.0" fill="#a99f97"/><circle cx="199.6" cy="419.5" r="3.0" fill="#a99f97"/><circle cx="194.7" cy="426.4" r="3.0" fill="#a99f97"/><circle cx="188.0" cy="428.9" r="3.0" fill="#a99f97"/><circle cx="181.3" cy="426.4" r="3.0" fill="#a99f97"/><circle cx="176.4" cy="419.5" r="3.0" fill="#a99f97"/><circle cx="174.6" cy="410.0" r="3.0" fill="#a99f97"/><circle cx="176.4" cy="400.5" r="3.0" fill="#a99f97"/><circle cx="181.3" cy="393.6" r="3.0" fill="#a99f97"/><circle cx="188.0" cy="391.1" r="3.0" fill="#a99f97"/><circle cx="194.7" cy="393.6" r="3.0" fill="#a99f97"/><circle cx="199.6" cy="400.5" r="3.0" fill="#a99f97"/>
<ellipse cx="170.5" cy="419" rx="25.5" ry="23" fill="#e5d1ab"/><circle cx="194.5" cy="419.0" r="4.4" fill="#e5d1ab"/><circle cx="192.6" cy="427.2" r="4.4" fill="#e5d1ab"/><circle cx="187.4" cy="434.2" r="4.4" fill="#e5d1ab"/><circle cx="179.7" cy="438.8" r="4.4" fill="#e5d1ab"/><circle cx="170.5" cy="440.5" r="4.4" fill="#e5d1ab"/><circle cx="161.3" cy="438.8" r="4.4" fill="#e5d1ab"/><circle cx="153.6" cy="434.2" r="4.4" fill="#e5d1ab"/><circle cx="148.4" cy="427.2" r="4.4" fill="#e5d1ab"/><circle cx="146.5" cy="419.0" r="4.4" fill="#e5d1ab"/><circle cx="148.4" cy="410.8" r="4.4" fill="#e5d1ab"/><circle cx="153.6" cy="403.8" r="4.4" fill="#e5d1ab"/><circle cx="161.3" cy="399.2" r="4.4" fill="#e5d1ab"/><circle cx="170.5" cy="397.5" r="4.4" fill="#e5d1ab"/><circle cx="179.7" cy="399.2" r="4.4" fill="#e5d1ab"/><circle cx="187.4" cy="403.8" r="4.4" fill="#e5d1ab"/><circle cx="192.6" cy="410.8" r="4.4" fill="#e5d1ab"/>
<ellipse cx="171" cy="399" rx="17" ry="9" fill="#e5d1ab"/><circle cx="186.9" cy="399.0" r="3.0" fill="#e5d1ab"/><circle cx="183.9" cy="403.7" r="3.0" fill="#e5d1ab"/><circle cx="175.9" cy="406.6" r="3.0" fill="#e5d1ab"/><circle cx="166.1" cy="406.6" r="3.0" fill="#e5d1ab"/><circle cx="158.1" cy="403.7" r="3.0" fill="#e5d1ab"/><circle cx="155.1" cy="399.0" r="3.0" fill="#e5d1ab"/><circle cx="158.1" cy="394.3" r="3.0" fill="#e5d1ab"/><circle cx="166.1" cy="391.4" r="3.0" fill="#e5d1ab"/><circle cx="175.9" cy="391.4" r="3.0" fill="#e5d1ab"/><circle cx="183.9" cy="394.3" r="3.0" fill="#e5d1ab"/>
<path d="M177,392 C186,394 197,400 201,411 C194,408 186,404 178,405 Z" fill="#a99f97"/>
<path d="M160,440 L170,450 L180,440 Z" fill="#e5d1ab"/>
<ellipse cx="154.5" cy="453" rx="11.8" ry="19" fill="#e5d1ab"/><circle cx="165.2" cy="453.0" r="3.0" fill="#e5d1ab"/><circle cx="163.8" cy="462.0" r="3.0" fill="#e5d1ab"/><circle cx="159.9" cy="468.5" r="3.0" fill="#e5d1ab"/><circle cx="154.5" cy="470.9" r="3.0" fill="#e5d1ab"/><circle cx="149.1" cy="468.5" r="3.0" fill="#e5d1ab"/><circle cx="145.2" cy="462.0" r="3.0" fill="#e5d1ab"/><circle cx="143.8" cy="453.0" r="3.0" fill="#e5d1ab"/><circle cx="145.2" cy="444.0" r="3.0" fill="#e5d1ab"/><circle cx="149.1" cy="437.5" r="3.0" fill="#e5d1ab"/><circle cx="154.5" cy="435.1" r="3.0" fill="#e5d1ab"/><circle cx="159.9" cy="437.5" r="3.0" fill="#e5d1ab"/><circle cx="163.8" cy="444.0" r="3.0" fill="#e5d1ab"/>
<ellipse cx="190.6" cy="454" rx="10.8" ry="18" fill="#e5d1ab"/><circle cx="200.3" cy="454.0" r="3.0" fill="#e5d1ab"/><circle cx="199.0" cy="462.5" r="3.0" fill="#e5d1ab"/><circle cx="195.5" cy="468.7" r="3.0" fill="#e5d1ab"/><circle cx="190.6" cy="470.9" r="3.0" fill="#e5d1ab"/><circle cx="185.7" cy="468.7" r="3.0" fill="#e5d1ab"/><circle cx="182.2" cy="462.5" r="3.0" fill="#e5d1ab"/><circle cx="180.8" cy="454.0" r="3.0" fill="#e5d1ab"/><circle cx="182.2" cy="445.5" r="3.0" fill="#e5d1ab"/><circle cx="185.7" cy="439.3" r="3.0" fill="#e5d1ab"/><circle cx="190.6" cy="437.1" r="3.0" fill="#e5d1ab"/><circle cx="195.5" cy="439.3" r="3.0" fill="#e5d1ab"/><circle cx="199.0" cy="445.5" r="3.0" fill="#e5d1ab"/>
<ellipse cx="147.5" cy="479" rx="16.5" ry="6.8" fill="#e5d1ab"/><circle cx="163.1" cy="479.0" r="2.6" fill="#e5d1ab"/><circle cx="160.1" cy="482.5" r="2.6" fill="#e5d1ab"/><circle cx="152.3" cy="484.6" r="2.6" fill="#e5d1ab"/><circle cx="142.7" cy="484.6" r="2.6" fill="#e5d1ab"/><circle cx="134.9" cy="482.5" r="2.6" fill="#e5d1ab"/><circle cx="131.9" cy="479.0" r="2.6" fill="#e5d1ab"/><circle cx="134.9" cy="475.5" r="2.6" fill="#e5d1ab"/><circle cx="142.7" cy="473.4" r="2.6" fill="#e5d1ab"/><circle cx="152.3" cy="473.4" r="2.6" fill="#e5d1ab"/><circle cx="160.1" cy="475.5" r="2.6" fill="#e5d1ab"/>
<ellipse cx="191.5" cy="480" rx="9.8" ry="6.2" fill="#e5d1ab"/><circle cx="200.5" cy="480.0" r="2.4" fill="#e5d1ab"/><circle cx="197.8" cy="483.8" r="2.4" fill="#e5d1ab"/><circle cx="191.5" cy="485.4" r="2.4" fill="#e5d1ab"/><circle cx="185.2" cy="483.8" r="2.4" fill="#e5d1ab"/><circle cx="182.5" cy="480.0" r="2.4" fill="#e5d1ab"/><circle cx="185.2" cy="476.2" r="2.4" fill="#e5d1ab"/><circle cx="191.5" cy="474.6" r="2.4" fill="#e5d1ab"/><circle cx="197.8" cy="476.2" r="2.4" fill="#e5d1ab"/>
<path d="M150,405 q-4,6 -1,12 M158,402 q-3,8 1,14 M168,412 q-2,7 2,12 M180,414 q2,7 -2,13 M172,426 q0,6 4,10 M160,424 q-1,6 3,10 M190,420 q2,6 -1,11 M148,444 q-2,8 0,16 M156,442 q-1,9 1,18 M162,446 q-1,8 0,14 M188,444 q-1,9 1,18 M196,446 q-1,8 0,14 M183,448 q-1,7 0,12 M140,476 l0,6 M148,476 l0,7 M156,476 l0,6 M188,478 l0,6 M195,478 l0,6" fill="none" stroke="#b59d76" stroke-width="0.9" stroke-linecap="round"/>
<path d="M145,346.4 C137,349 126,360 123.3,369 C121.6,376 123.6,381.6 127.6,382.6 C128.6,386 133,387.6 136,385.4 C138.6,388.4 144,388.2 146.6,384.6 C150,379 149.6,368 146.4,359.6 C145.4,355 145.2,350 145,346.4 Z" fill="#dfbf87"/>
<path d="M199.6,345.8 C208,349 218,361 221.2,371 C222.8,377 221,382 217.4,383.2 C216,386.4 211.6,387.4 208.8,385.4 C206,387.8 201.4,387.2 199.2,383.4 C196.4,377 196.8,368 199.4,360 C200.2,355 199.8,350 199.6,345.8 Z" fill="#dfbf87"/>
<path d="M128,376 q0.5,4 -0.4,6.6 M136.4,378 q0.4,4 -0.4,7.4 M217,377 q-0.4,4 0.4,6.2 M209,379 q-0.4,3.6 -0.2,6.4" fill="none" stroke="#bf9f68" stroke-width="0.8" stroke-linecap="round"/>
<ellipse cx="172.7" cy="370.5" rx="26" ry="24.6" fill="#9b8f82"/>
<ellipse cx="172.7" cy="370.5" rx="24.4" ry="24.6" fill="#b9a88f"/>
<path d="M150.5,374 C150,385 159,395.6 172.7,395.6 C186.4,395.6 195.4,385 194.9,374 C191,367.4 185.6,366.4 180.4,368.6 L178.4,352 L167,352 L165,368.6 C159.8,366.4 154.4,367.4 150.5,374 Z" fill="#ead6b3"/>
<ellipse cx="172.7" cy="339.8" rx="26.2" ry="15.4" fill="#ead6b3"/><circle cx="196.7" cy="342.5" r="4.8" fill="#ead6b3"/><circle cx="193.0" cy="347.5" r="4.8" fill="#ead6b3"/><circle cx="186.2" cy="351.2" r="4.8" fill="#ead6b3"/><circle cx="177.4" cy="353.3" r="4.8" fill="#ead6b3"/><circle cx="167.8" cy="353.2" r="4.8" fill="#ead6b3"/><circle cx="159.0" cy="351.2" r="4.8" fill="#ead6b3"/><circle cx="152.3" cy="347.4" r="4.8" fill="#ead6b3"/><circle cx="148.6" cy="342.4" r="4.8" fill="#ead6b3"/><circle cx="148.7" cy="337.1" r="4.8" fill="#ead6b3"/><circle cx="152.4" cy="332.1" r="4.8" fill="#ead6b3"/><circle cx="159.2" cy="328.4" r="4.8" fill="#ead6b3"/><circle cx="168.0" cy="326.3" r="4.8" fill="#ead6b3"/><circle cx="177.6" cy="326.4" r="4.8" fill="#ead6b3"/><circle cx="186.4" cy="328.4" r="4.8" fill="#ead6b3"/><circle cx="193.1" cy="332.2" r="4.8" fill="#ead6b3"/><circle cx="196.8" cy="337.2" r="4.8" fill="#ead6b3"/>
<circle cx="150.4" cy="353.4" r="6.2" fill="#ead6b3"/><circle cx="195" cy="352.8" r="6.2" fill="#ead6b3"/>
<path d="M150,350 C151,357 154,359.4 157,355.4 C159,360.4 163.6,359.6 165.6,354.6 C168,360.4 174,359.6 176,353.6 C179,358.6 184,358.6 186,353.6 C189,358.6 194,357.6 196,350 Z" fill="#ead6b3"/>
<path d="M158,334 q3,-4 7,-2 M170,329 q4,-3 8,0 M183,334 q3,-2 6,1 M163,345 q4,-3 8,0 M177,344 q4,-3 8,1" fill="none" stroke="#d5bf97" stroke-width="0.9" stroke-linecap="round"/>
<ellipse cx="160.8" cy="360.0" rx="3.9" ry="4.6" fill="#17110e"/>
<ellipse cx="184.6" cy="360.0" rx="3.9" ry="4.6" fill="#17110e"/>
<path d="M166.9,369.4 C166.9,365.2 179.1,365.2 179.3,369.4 C179.5,373 175.8,375.6 173.1,375.6 C170.4,375.6 166.9,373 166.9,369.4 Z" fill="#17110e"/>
<path d="M173.1,375 L173.1,378.6" stroke="#17110e" stroke-width="1" fill="none"/>
<path d="M157.2,375.6 C162,379.2 168,380.4 173.1,378.2 C178,380.4 184,379.2 189,374.8 C188.4,384.6 181.4,391.4 173.1,391.4 C165,391.4 158.4,384.6 157.2,375.6 Z" fill="#1d1512"/>
<path d="M166.2,384.6 C168,381.4 171.4,380.6 173.3,382 C175.4,380.6 179,381.4 180.6,384.4 C180.6,388.6 177.4,391.2 173.3,391.2 C169.4,391.2 166.2,388.6 166.2,384.6 Z" fill="#cf8d86"/>
</g>
</g>
</svg>
</body>
</html>
